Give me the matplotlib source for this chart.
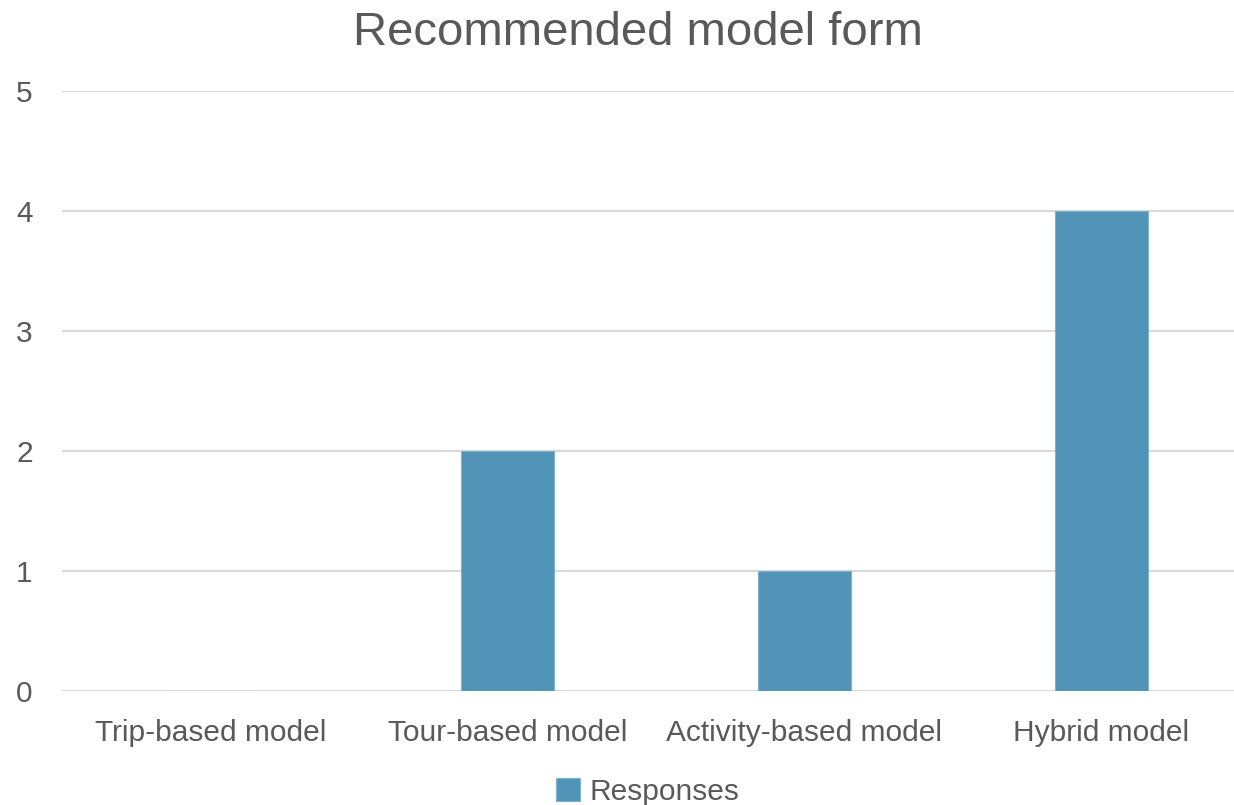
import matplotlib
matplotlib.use("Agg")
import matplotlib.pyplot as plt

categories = ["Trip-based model", "Tour-based model", "Activity-based model", "Hybrid model"]
responses = [0, 2, 1, 4]
y_ticks = [0, 1, 2, 3, 4, 5]

bar_color = "#5294B7"
text_color = "#595959"
grid_color = "#D9D9D9"

plt.rcParams["font.family"] = ["Liberation Sans", "DejaVu Sans"]

fig = plt.figure(figsize=(12.34, 8.05), dpi=100)
ax = fig.add_axes([62 / 1234, 1 - 691 / 805, 1188 / 1234, 600 / 805])

x = range(len(categories))
ax.bar(x, responses, width=0.313, color=bar_color, edgecolor="#7FB0CC",
       linewidth=0.8, label="Responses", zorder=3)

ax.set_xlim(-0.5, len(categories) - 0.5)
ax.set_ylim(0, 5)
ax.set_yticks(y_ticks)
ax.set_xticks(list(x))
ax.set_xticklabels(categories)
ax.tick_params(axis="both", length=0, labelsize=21.5, colors=text_color)
ax.tick_params(axis="y", pad=21)
ax.tick_params(axis="x", pad=20)
ax.yaxis.grid(True, color=grid_color, linewidth=1.5, zorder=0)
for s in ax.spines.values():
    s.set_visible(False)

fig.text(0.517, 1 - 33 / 805, "Recommended model form", ha="center", va="center",
         fontsize=34, color=text_color)

ax.legend(loc="center", bbox_to_anchor=(0.493, -0.168),
          frameon=False, fontsize=21.5, labelcolor=text_color, handlelength=0.8,
          handleheight=0.8, handletextpad=0.3)

fig.savefig("out.png", dpi=100)
